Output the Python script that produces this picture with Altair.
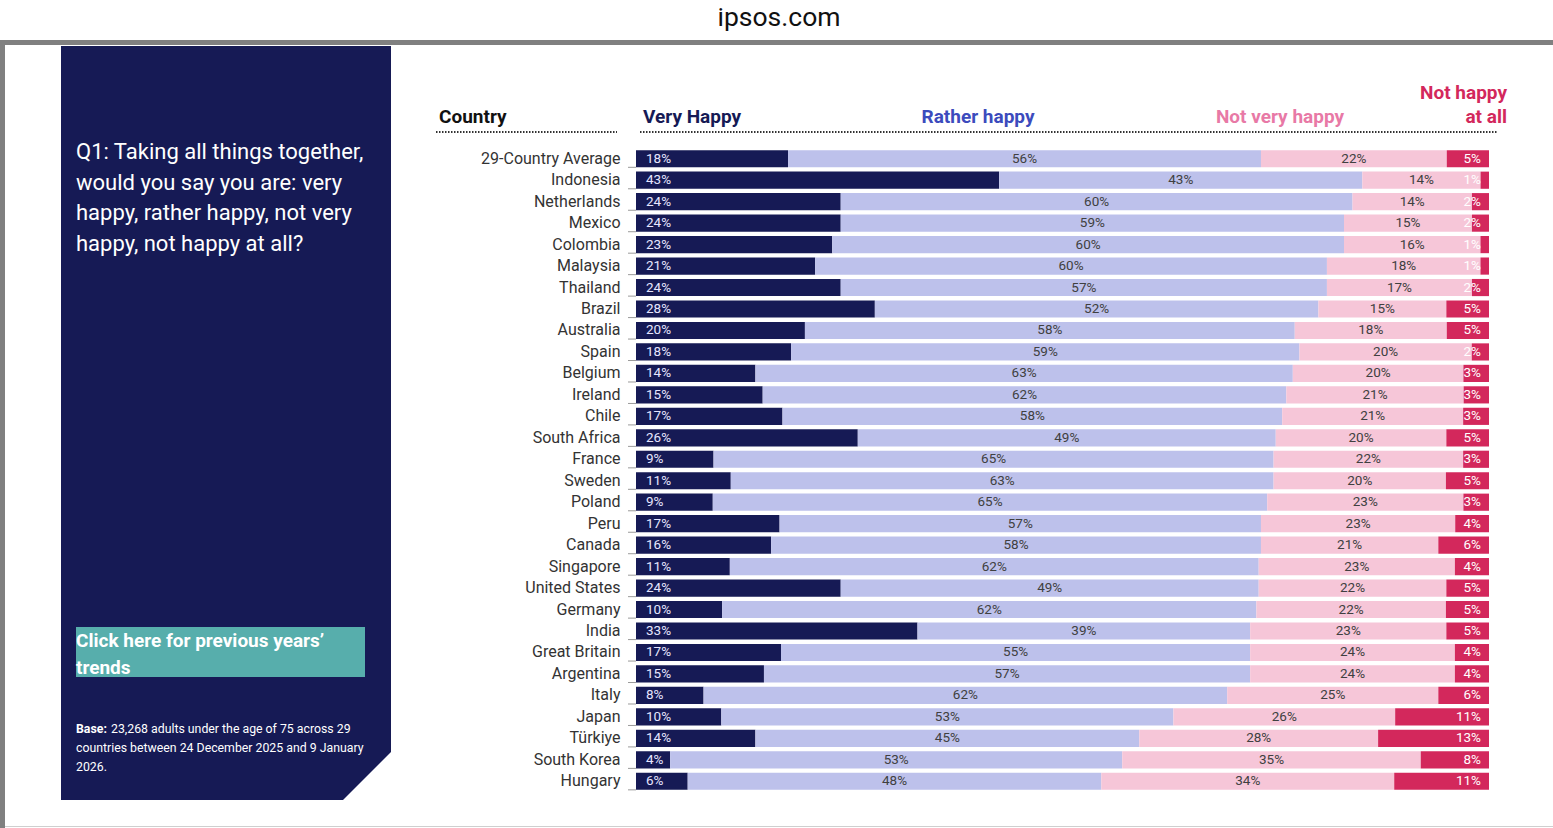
import altair as alt
import pandas as pd

countries = ["29-Country Average", "Indonesia", "Netherlands", "Mexico", "Colombia", "Malaysia",
             "Thailand", "Brazil", "Australia", "Spain", "Belgium", "Ireland", "Chile",
             "South Africa", "France", "Sweden", "Poland", "Peru", "Canada", "Singapore",
             "United States", "Germany", "India", "Great Britain", "Argentina", "Italy",
             "Japan", "Türkiye", "South Korea", "Hungary"]
very_happy = [18, 43, 24, 24, 23, 21, 24, 28, 20, 18, 14, 15, 17, 26, 9, 11, 9, 17, 16, 11,
              24, 10, 33, 17, 15, 8, 10, 14, 4, 6]
rather_happy = [56, 43, 60, 59, 60, 60, 57, 52, 58, 59, 63, 62, 58, 49, 65, 63, 65, 57, 58, 62,
                49, 62, 39, 55, 57, 62, 53, 45, 53, 48]
not_very_happy = [22, 14, 14, 15, 16, 18, 17, 15, 18, 20, 20, 21, 21, 20, 22, 20, 23, 23, 21, 23,
                  22, 22, 23, 24, 24, 25, 26, 28, 35, 34]
not_happy_at_all = [5, 1, 2, 2, 1, 1, 2, 5, 5, 2, 3, 3, 3, 5, 3, 5, 3, 4, 6, 4,
                    5, 5, 5, 4, 4, 6, 11, 13, 8, 11]
categories = ["Very Happy", "Rather happy", "Not very happy", "Not happy at all"]
cat_colors = ["#161a55", "#bdc1eb", "#f6c6d8", "#d3285c"]

rows = []
for i, c in enumerate(countries):
    for k, (cat, vals) in enumerate(zip(categories, [very_happy, rather_happy, not_very_happy, not_happy_at_all])):
        rows.append({"country": c, "cat": cat, "order": k, "value": vals[i]})
df = pd.DataFrame(rows)

FONT = "Roboto"
dummy = pd.DataFrame({"a": [0]})

TOP = 148
W, H = 853, 644
PAD = {"left": 636, "top": TOP, "right": 1553 - 636 - W, "bottom": 828 - TOP - H}


def py(y):  # page y -> plot y
    return y - TOP


def px(x):  # page x -> plot x
    return x - 636


xsc = alt.Scale(domain=[0, 1], nice=False, zero=True)
ysc = alt.Scale(paddingInner=0.2, paddingOuter=0.1)

base = alt.Chart(df).transform_stack(
    stack="value", groupby=["country"], as_=["x0", "x1"], offset="normalize",
    sort=[alt.SortField("order", order="ascending")]
).transform_calculate(mid="(datum.x0 + datum.x1) / 2", label="datum.value + '%'")

Y = alt.Y("country:N", sort=countries, scale=ysc,
          axis=alt.Axis(title=None, domain=False, ticks=False, labelPadding=16,
                        labelFontSize=16, labelColor="#333333", labelFont=FONT))

bars = base.mark_bar(cornerRadius=0).encode(
    x=alt.X("x0:Q", scale=xsc, axis=None),
    x2="x1:Q",
    y=Y,
    color=alt.Color("cat:N", scale=alt.Scale(domain=categories, range=cat_colors), legend=None),
)

LBL = 13.5
lab_vh = base.transform_filter(alt.datum.cat == "Very Happy").mark_text(
    align="left", dx=10, font=FONT, fontSize=LBL, color="#e6e6ff", baseline="middle"
).encode(x=alt.X("x0:Q", scale=xsc), y=Y, text="label:N")

lab_mid = base.transform_filter(
    (alt.datum.cat == "Rather happy") | (alt.datum.cat == "Not very happy")
).mark_text(align="center", font=FONT, fontSize=LBL, color="#404040", baseline="middle").encode(
    x=alt.X("mid:Q", scale=xsc), y=Y, text="label:N")

lab_nh = base.transform_filter(alt.datum.cat == "Not happy at all").mark_text(
    align="right", dx=-8, font=FONT, fontSize=LBL, color="#ffffff", baseline="middle"
).encode(x=alt.X("x1:Q", scale=xsc), y=Y, text="label:N")

row_ticks = alt.Chart(pd.DataFrame({"country": countries})).mark_rule(
    color="#9a9a9a", strokeWidth=1
).encode(
    y=alt.Y("country:N", sort=countries, scale=ysc, bandPosition=1),
    x=alt.value(-8), x2=alt.value(0),
)


def rect(x, x2, y, y2, color):
    return alt.Chart(dummy).mark_rect(color=color).encode(
        x=alt.value(px(x)), x2=alt.value(px(x2)), y=alt.value(py(y)), y2=alt.value(py(y2)))


def text(t, x, y, size, color, weight="normal", align="left", font=FONT):
    return alt.Chart(dummy).mark_text(
        text=t, font=font, fontSize=size, color=color, fontWeight=weight,
        align=align, baseline="middle"
    ).encode(x=alt.value(px(x)), y=alt.value(py(y)))


def dotted(x, x2, y):
    return alt.Chart(dummy).mark_rule(color="#333333", strokeWidth=2, strokeDash=[1.5, 1.5]).encode(
        x=alt.value(px(x)), x2=alt.value(px(x2)), y=alt.value(py(y)))


frame = [
    rect(0, 1553, 40, 45, "#808080"),
    rect(0, 5, 45, 828, "#808080"),
    rect(5, 1553, 826, 827, "#cfcfcf"),
    text("ipsos.com", 779, 18, 26.5, "#111111", align="center"),
]

question = ["Q1: Taking all things together,", "would you say you are: very",
            "happy, rather happy, not very", "happy, not happy at all?"]
panel = [
    rect(61, 391, 46, 800, "#161a55"),
    alt.Chart(dummy).mark_point(shape="M1,-1L1,1L-1,1Z", filled=True, fill="#ffffff",
                                opacity=1, strokeWidth=0, size=52 * 52).encode(
        x=alt.value(px(367)), y=alt.value(py(776))),
]
for i, line in enumerate(question):
    panel.append(text(line, 76, 152 + i * 30.5, 22, "#ffffff"))
panel += [
    rect(76, 365, 627, 677, "#57aeac"),
    text("Click here for previous years\u2019", 76, 641, 19, "#ffffff", weight="bold"),
    text("trends", 76, 668, 19, "#ffffff", weight="bold"),
    text("Base:", 76, 729, 12.3, "#ffffff", weight="bold"),
    text("23,268 adults under the age of 75 across 29", 111, 729, 12.3, "#ffffff"),
    text("countries between  24 December 2025 and 9 January", 76, 748, 12.3, "#ffffff"),
    text("2026.", 76, 767, 12.3, "#ffffff"),
]

headers = [
    text("Country", 439, 117, 19, "#111111", weight="bold"),
    text("Very Happy", 643, 117, 19, "#161a55", weight="bold"),
    text("Rather happy", 978, 117, 19, "#3c4bbd", weight="bold", align="center"),
    text("Not very happy", 1280, 117, 19, "#e879a6", weight="bold", align="center"),
    text("Not happy", 1507, 93, 19, "#d3285c", weight="bold", align="right"),
    text("at all", 1507, 117, 19, "#d3285c", weight="bold", align="right"),
    dotted(436, 617, 132),
    dotted(640, 1497, 132),
]

chart = alt.layer(*frame, *panel, *headers, bars, lab_vh, lab_mid, lab_nh, row_ticks).properties(
    width=W, height=H, padding=PAD, autosize=alt.AutoSizeParams(type="none"),
    background="#ffffff",
).configure_view(stroke=None)

chart.save("out.html", embed_options={"renderer": "svg", "actions": False})
